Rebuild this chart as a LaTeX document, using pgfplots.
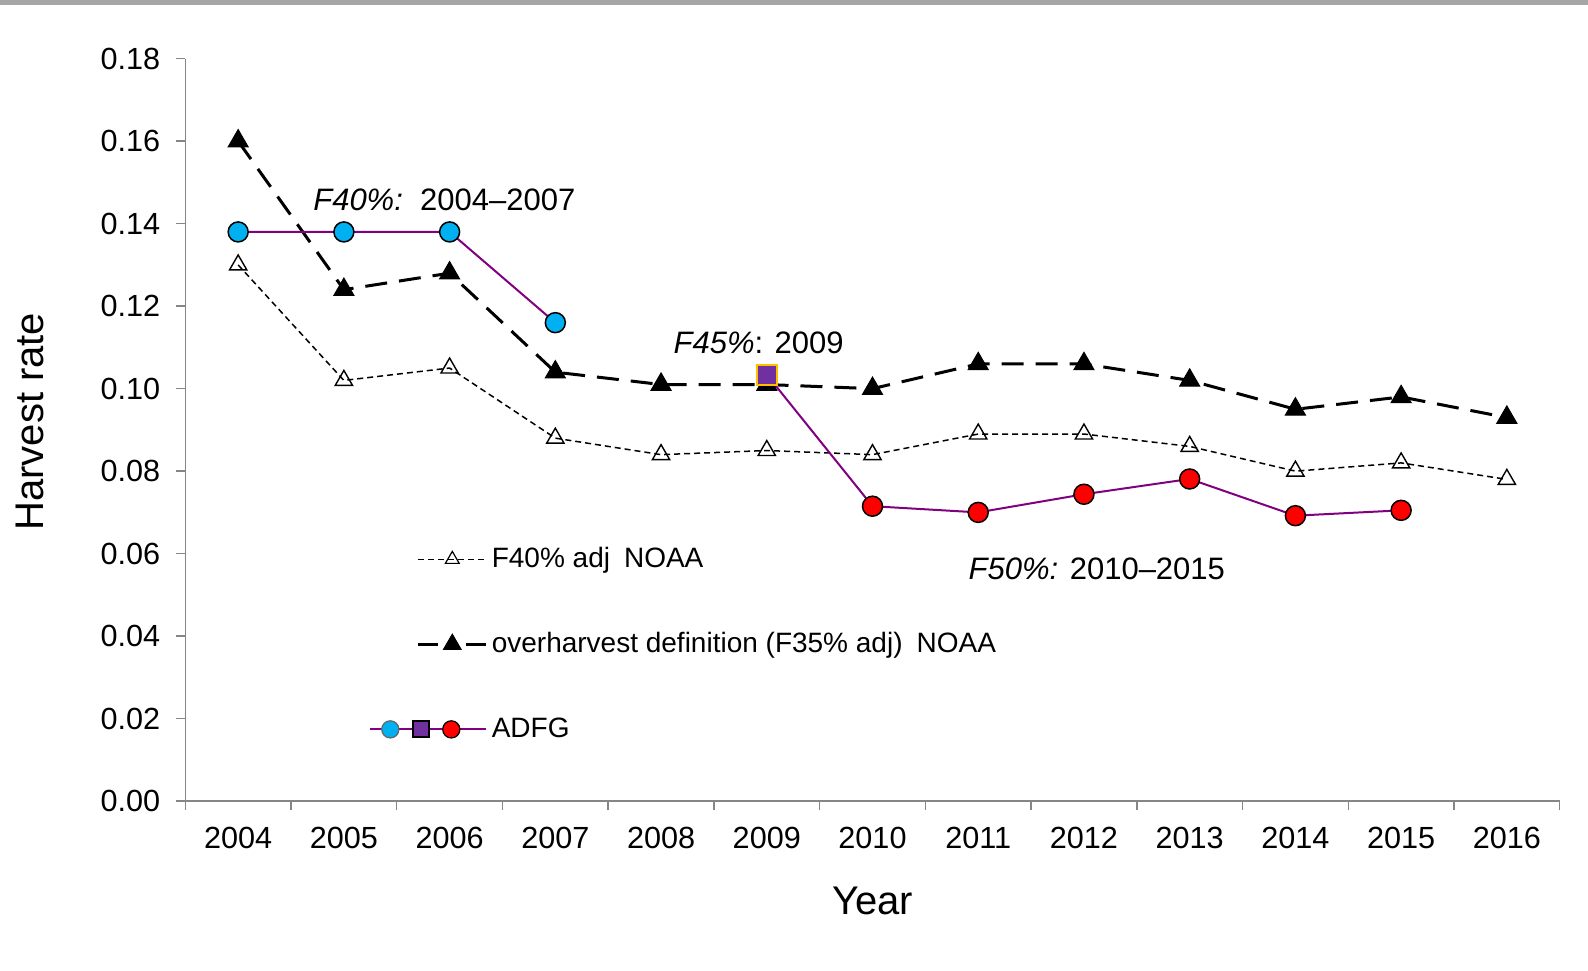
\documentclass[border=0pt]{standalone}
\usepackage{fontspec}
\setmainfont{Liberation Sans}
\usepackage{pgfplots}
\usepackage{pgfplotstable}
\pgfplotsset{compat=1.18}
\usetikzlibrary{plotmarks}

\definecolor{adfgline}{HTML}{800080}
\definecolor{cyanm}{HTML}{00B0F0}
\definecolor{sqfill}{HTML}{7030A0}
\definecolor{sqedge}{HTML}{FFC000}
\definecolor{axgray}{HTML}{868686}
\definecolor{bargray}{HTML}{A6A6A6}

\pgfplotstableread{
x f40 ovh
0  0.130 0.160
1  0.102 0.124
2  0.105 0.128
3  0.088 0.104
4  0.084 0.101
5  0.085 0.101
6  0.084 0.100
7  0.089 0.106
8  0.089 0.106
9  0.086 0.102
10 0.080 0.095
11 0.082 0.098
12 0.078 0.093
}\noaa

\pgfplotstableread{
x v
0 0.138
1 0.138
2 0.138
3 0.116
}\adfgA

\pgfplotstableread{
x v
5 0.1034
}\adfgB

\pgfplotstableread{
x v
6  0.0715
7  0.0700
8  0.0744
9  0.0781
10 0.0692
11 0.0705
}\adfgC

\pgfplotstableread{
x v
5  0.1034
6  0.0715
7  0.0700
8  0.0744
9  0.0781
10 0.0692
11 0.0705
}\adfgBC

\begin{document}
\begin{tikzpicture}
\begin{axis}[
  scale only axis, width=687.2pt, height=371.2pt,
  xmin=-0.5, xmax=12.5, ymin=0, ymax=0.18,
  clip=false,
  axis x line*=bottom, axis y line*=left,
  axis line style={axgray, line width=0.75pt},
  xtick={-0.5,0.5,1.5,2.5,3.5,4.5,5.5,6.5,7.5,8.5,9.5,10.5,11.5,12.5},
  xticklabels={},
  extra x ticks={0,1,2,3,4,5,6,7,8,9,10,11,12},
  extra x tick labels={2004,2005,2006,2007,2008,2009,2010,2011,2012,2013,2014,2015,2016},
  extra x tick style={major tick length=0pt, xticklabel style={yshift=-9.5pt}},
  ytick={0,0.02,0.04,0.06,0.08,0.10,0.12,0.14,0.16,0.18},
  tick align=outside, major tick length=4.5pt,
  tick style={axgray, line width=0.75pt},
  tick label style={font=\fontsize{15.3}{18}\selectfont},
  yticklabel style={xshift=-4.5pt, /pgf/number format/.cd, fixed, fixed zerofill, precision=2},
  /pgf/number format/assume math mode=true,
  xlabel={Year}, ylabel={Harvest rate},
  label style={font=\fontsize{20}{24}\selectfont},
  xlabel style={at={(axis description cs:0.5,-0.1527)}, anchor=base},
  ylabel style={at={(axis description cs:-0.1035,0.511)}, anchor=base},
  legend cell align=left,
  legend style={draw=none, fill=none,
    at={(axis description cs:0.1333,0.3423)}, anchor=north west,
    inner xsep=0pt, inner ysep=0pt, row sep=30.5pt, column sep=2pt,
    font=\fontsize{14}{17}\selectfont,
    nodes={inner sep=0pt, text height=10pt, text depth=2pt}},
]
% NOAA F40% adj
\addplot[forget plot, black, line width=0.75pt, dash pattern=on 3pt off 2pt,
  mark=triangle, mark size=5pt, mark options={solid, fill=white, line width=0.7pt}]
  table[x=x, y=f40] {\noaa};
% overharvest
\addplot[forget plot, black, line width=1.5pt, dash pattern=on 11pt off 6pt,
  mark=triangle*, mark size=5.8pt, mark options={solid, line width=0.5pt}]
  table[x=x, y=ovh] {\noaa};
% ADFG
\addplot[forget plot, adfgline, line width=1pt, no marks] table[x=x, y=v] {\adfgBC};
\addplot[forget plot, adfgline, line width=1pt,
  mark=*, mark size=5pt, mark options={fill=cyanm, draw=black, line width=0.75pt}]
  table[x=x, y=v] {\adfgA};
\addplot[forget plot, only marks, mark=square*, mark size=5pt,
  mark options={fill=sqfill, draw=sqedge, line width=0.9pt}]
  table[x=x, y=v] {\adfgB};
\addplot[forget plot, only marks, mark=*, mark size=5pt,
  mark options={fill=red, draw=black, line width=0.75pt}]
  table[x=x, y=v] {\adfgC};

\addlegendimage{legend image code/.code={
  \draw[black, line width=0.75pt, dash pattern=on 3pt off 2pt] (-34pt,0pt) -- (0pt,0pt);
  \draw[black, fill=white, line width=0.6pt] plot[mark=triangle, mark size=4pt] coordinates {(-17pt,0pt)};}}
\addlegendentry{F40\% adj\hspace{0.5em}NOAA}
\addlegendimage{legend image code/.code={
  \draw[black, line width=1.5pt] (-34pt,0pt) -- (-24pt,0pt);
  \draw[black, line width=1.5pt] (-10pt,0pt) -- (0pt,0pt);
  \fill[black] plot[mark=triangle*, mark size=5.2pt] coordinates {(-17pt,0pt)};}}
\addlegendentry{overharvest definition (F35\% adj)\hspace{0.5em}NOAA}
\addlegendimage{legend image code/.code={
  \draw[adfgline, line width=1pt] (-58.2pt,0pt) -- (0pt,0pt);
  \draw[black!60, fill=cyanm, line width=0.6pt] plot[mark=*, mark size=4.3pt] coordinates {(-48pt,0pt)};
  \draw[black, fill=sqfill, line width=0.9pt] plot[mark=square*, mark size=4pt] coordinates {(-32.5pt,0pt)};
  \draw[black, fill=red, line width=0.6pt] plot[mark=*, mark size=4.3pt] coordinates {(-17.5pt,0pt)};}}
\addlegendentry{ADFG}

\node[anchor=base, font=\fontsize{15.5}{18}\selectfont] at (axis cs:1.95,0.1431) {\textit{F40\%:}\ \ 2004--2007};
\node[anchor=base, font=\fontsize{15.5}{18}\selectfont] at (axis cs:4.923,0.1085) {\textit{F45\%}: 2009};
\node[anchor=base, font=\fontsize{15.5}{18}\selectfont] at (axis cs:8.122,0.0538) {\textit{F50\%:} 2010--2015};
\end{axis}
\fill[bargray] (-92.65pt,398.2pt) rectangle (701.35pt,400.55pt);
\pgfresetboundingbox
\useasboundingbox (-92.65pt,-84.45pt) rectangle (701.35pt,400.55pt);
\end{tikzpicture}
\end{document}
